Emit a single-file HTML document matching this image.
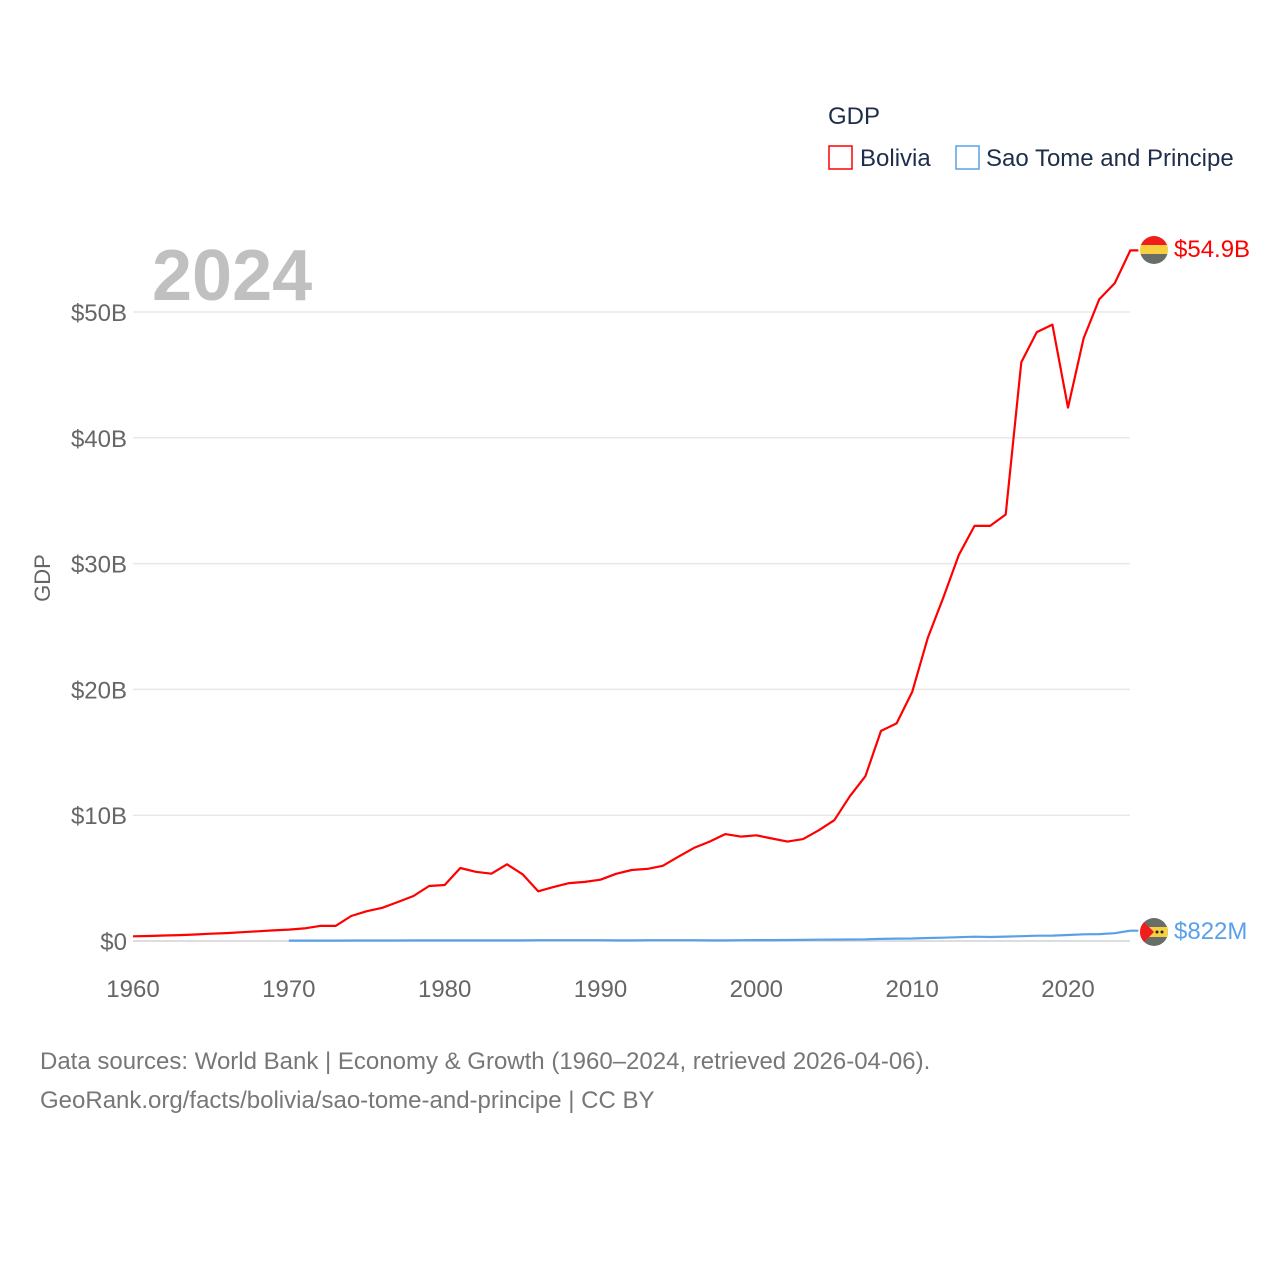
<!DOCTYPE html>
<html><head><meta charset="utf-8"><style>
body{margin:0;background:#fff;font-family:"Liberation Sans",sans-serif;}
svg text{font-family:"Liberation Sans",sans-serif;}
</style></head><body>
<svg id="chart" width="1280" height="1280" viewBox="0 0 1280 1280">
<text x="828" y="124" font-size="24" fill="#1d2d4a">GDP</text>
<g><rect x="829" y="146" width="23" height="23" fill="none" stroke="#ff0000" stroke-width="1.5"/><text x="860" y="166" font-size="24" fill="#1d2d4a">Bolivia</text></g>
<g><rect x="956" y="146" width="23" height="23" fill="none" stroke="#5aa0e8" stroke-width="1.5"/><text x="986" y="166" font-size="24" fill="#1d2d4a">Sao Tome and Principe</text></g>
<text x="152" y="300" font-size="72" font-weight="bold" fill="#c0c0c0">2024</text>
<text transform="translate(50,578) rotate(-90)" text-anchor="middle" font-size="22" fill="#666">GDP</text>
<g id="grid"></g><g id="yt"></g><g id="xt"></g><g id="lines"></g>
<g><clipPath id="c1"><circle cx="1154" cy="250" r="14"/></clipPath><g clip-path="url(#c1)"><rect x="1140" y="236" width="28" height="10" fill="#f01d1d"/><rect x="1140" y="245" width="28" height="10" fill="#f6d040"/><rect x="1140" y="254" width="28" height="10" fill="#676e67"/></g></g>
<text x="1174" y="257" font-size="24" fill="#ff0000">$54.9B</text>
<g><clipPath id="c2"><circle cx="1154" cy="932" r="14"/></clipPath><g clip-path="url(#c2)"><rect x="1140" y="918" width="28" height="28" fill="#676e67"/><rect x="1140" y="927" width="28" height="10" fill="#f6d040"/><polygon points="1140,918 1154,932 1140,946" fill="#f01d1d"/><circle cx="1157" cy="932" r="1.5" fill="#222"/><circle cx="1162" cy="932" r="1.5" fill="#222"/></g></g>
<text x="1174" y="939" font-size="24" fill="#5aa0e8">$822M</text>
<text x="40" y="1069" font-size="24" fill="#777">Data sources: World Bank | Economy &amp; Growth (1960–2024, retrieved 2026-04-06).</text>
<text x="40" y="1108" font-size="24" fill="#777">GeoRank.org/facts/bolivia/sao-tome-and-principe | CC BY</text>
</svg>
<script>
const boliviaYears=[];for(let y=1960;y<=2024;y++)boliviaYears.push(y);
const boliviaGdp=[0.37,0.40,0.44,0.47,0.52,0.58,0.63,0.70,0.77,0.84,0.91,1.0,1.2,1.2,1.99,2.37,2.64,3.1,3.58,4.37,4.45,5.8,5.5,5.35,6.1,5.3,3.95,4.3,4.6,4.7,4.87,5.34,5.64,5.73,5.98,6.7,7.4,7.9,8.5,8.3,8.4,8.15,7.9,8.1,8.8,9.6,11.5,13.1,16.7,17.3,19.8,24.1,27.3,30.7,33.0,33.0,33.9,46.0,48.4,49.0,42.4,47.9,51.0,52.3,54.9];
const stpYears=[];for(let y=1970;y<=2024;y++)stpYears.push(y);
const stpGdp=[0.03,0.03,0.03,0.03,0.04,0.04,0.04,0.04,0.05,0.05,0.05,0.05,0.05,0.05,0.05,0.05,0.06,0.06,0.06,0.06,0.06,0.05,0.05,0.06,0.06,0.06,0.06,0.05,0.05,0.06,0.07,0.07,0.08,0.09,0.1,0.11,0.12,0.13,0.17,0.19,0.2,0.24,0.26,0.3,0.34,0.32,0.35,0.38,0.42,0.43,0.48,0.53,0.55,0.62,0.822];
const yTicks=[0,10,20,30,40,50];const yTickLabels=["$0","$10B","$20B","$30B","$40B","$50B"];
const xTicks=[1960,1970,1980,1990,2000,2010,2020];
const X=y=>133+(y-1960)*(1068-133)/60;
const Y=v=>941-v*(941-312)/50;
const NS="http://www.w3.org/2000/svg";
function mk(t,a,p){const e=document.createElementNS(NS,t);for(const k in a)e.setAttribute(k,a[k]);p.appendChild(e);return e;}
const grid=document.getElementById('grid'),yt=document.getElementById('yt'),xt=document.getElementById('xt'),lines=document.getElementById('lines');
yTicks.forEach((v,i)=>{
const l=mk('line',{x1:133,x2:1130,y1:Y(v),y2:Y(v),stroke:v===0?'#ddd':'#e8e8e8','stroke-width':v===0?2:1.5},grid);


const t=mk('text',{x:127,y:Y(v)+9,'text-anchor':'end','font-size':24,fill:'#666'},yt);t.textContent=yTickLabels[i];


});
xTicks.forEach(v=>{
const t=mk('text',{x:X(v),y:997,'text-anchor':'middle','font-size':24,fill:'#666'},xt);t.textContent=v;


});
function line(xs,vs,c,name){
const d=xs.map((y,i)=>(i?'L':'M')+X(y).toFixed(1)+','+Y(vs[i]).toFixed(1)).join('');
const p=mk('path',{d:d+'L'+(X(2024)+8)+','+Y(vs[vs.length-1]).toFixed(1),fill:'none',stroke:c,'stroke-width':2.2,'stroke-linejoin':'round'},lines);


}
line(stpYears,stpGdp,'#5aa0e8','sao-tome-line');
line(boliviaYears,boliviaGdp,'#ff0000','bolivia-line');
</script>
</body></html>
